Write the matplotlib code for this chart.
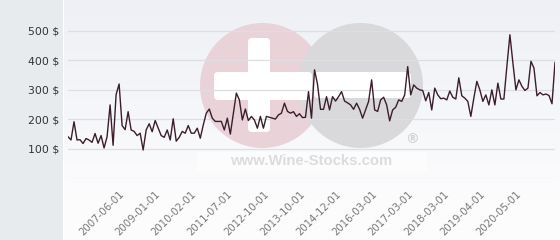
import matplotlib
matplotlib.use("Agg")
import matplotlib.pyplot as plt
import numpy as np
from matplotlib.patches import Rectangle, Circle, FancyBboxPatch

# prices, one per sale
prices = [
    140, 129, 191, 129, 130, 117, 134, 129, 121, 151, 118, 144, 102, 140, 248,
    111, 283, 319, 178, 164, 225, 163, 158, 144, 152, 95, 163, 184, 157, 195,
    169, 144, 138, 163, 129, 201, 125, 138, 158, 152, 178, 152,
    152, 169, 135, 180, 220, 234, 203, 192, 192, 192, 163, 203, 149, 218, 288,
    265, 197, 234, 195, 209, 197, 169,
    209, 169, 209, 206, 203, 200, 214, 220, 254, 226, 220, 225, 209, 218, 205,
    206, 293, 203, 367,
    318, 233, 233, 276, 231, 276, 261, 276, 293, 261, 255, 248, 233, 254, 233,
    203, 231, 260, 333, 231, 226, 265, 274, 248, 194, 231, 240, 265, 260, 282,
    378, 282, 316, 305, 299, 297, 262, 290, 231, 305, 282, 269, 271, 265, 295,
    274, 268,
    340, 279, 271, 260, 209, 271, 328, 299, 260, 282, 248, 299, 248, 322, 268,
    268, 380, 486, 390, 299, 333, 311, 297, 305, 396, 373, 279, 290, 282, 285,
    280, 252, 392,
]
date_labels = ["2007-06-01", "2009-01-01", "2010-02-01", "2011-07-01",
               "2012-10-01", "2013-10-01", "2014-12-01", "2016-03-01",
               "2017-03-01", "2018-03-01", "2019-04-01", "2020-05-01"]
y_ticks = [0, 100, 200, 300, 400, 500]

W, H = 560, 240
fig = plt.figure(figsize=(W / 100, H / 100), dpi=100)
fig.patch.set_facecolor("white")

# grey side panel
fig.patches.append(Rectangle((0, 0), 62.5 / W, 1, transform=fig.transFigure,
                             facecolor="#e7ebee", edgecolor="none", zorder=0))

# soft gradient behind the plot
bg = fig.add_axes([63.5 / W, 0, (W - 63.5) / W, 1], zorder=0)
grad = np.linspace(0, 1, 100).reshape(-1, 1)
top = np.array([238, 240, 245]) / 255
bot = np.array([252, 252, 253]) / 255
img = top + (bot - top) * np.clip(grad * 1.2, 0, 1)[..., None]
bg.imshow(img.reshape(100, 1, 3), aspect="auto", extent=[0, 1, 0, 1], origin="upper")
bg.axis("off")

# watermark (pixel coordinates)
wm = fig.add_axes([0, 0, 1, 1], zorder=1)
wm.set_xlim(0, W)
wm.set_ylim(H, 0)
wm.axis("off")
wm.add_patch(Rectangle((197, 152), 230, 21, facecolor="white", alpha=0.5, edgecolor="none"))
wm.add_patch(Circle((262.5, 85.5), 62.5, facecolor="#e9d3d9", edgecolor="none"))
wm.add_patch(Circle((360.5, 85.5), 62.5, facecolor="#d9d9db", edgecolor="none"))
wm.add_patch(FancyBboxPatch((252, 42), 14, 86, boxstyle="round,pad=4",
                            facecolor="white", edgecolor="none"))
wm.add_patch(FancyBboxPatch((218, 76), 90, 20, boxstyle="round,pad=4",
                            facecolor="white", edgecolor="none"))
wm.add_patch(FancyBboxPatch((318, 76), 89, 18, boxstyle="round,pad=4",
                            facecolor="white", edgecolor="none"))
wm.text(311.5, 161, "www.Wine-Stocks.com", ha="center", va="center",
        fontsize=10.7, fontweight="bold", family="Liberation Sans", color="#dcdcdc")
wm.text(412, 139, "®", ha="center", va="center", fontsize=10,
        fontweight="bold", color="#d2d2d2")

# main chart
ax = fig.add_axes([68 / W, (H - 178) / H, (555 - 68) / W, 178 / H], zorder=2)
ax.set_facecolor("none")
x = np.arange(len(prices))
ax.plot(x, prices, color="#3b1e2b", lw=1.0, zorder=3)
ax.set_xlim(0, len(prices) - 1)
ax.set_ylim(0, 604)

ax.set_yticks(y_ticks)
ax.set_yticklabels([""] + [f"{v} $" for v in y_ticks[1:]])
ax.grid(axis="y", color="#dcdee2", lw=0.9)
ax.set_axisbelow(True)
ax.tick_params(axis="y", length=0, pad=6.3, labelsize=7.8, labelcolor="#333333")

tick_pos = [17 + 12 * i for i in range(len(date_labels))]
ax.set_xticks(tick_pos)
ax.set_xticklabels(date_labels, rotation=45, ha="right", rotation_mode="anchor")
ax.tick_params(axis="x", length=0, pad=8, labelsize=7.3, labelcolor="#777777")

for s in ax.spines.values():
    s.set_visible(False)

fig.savefig("out.png", dpi=100)
